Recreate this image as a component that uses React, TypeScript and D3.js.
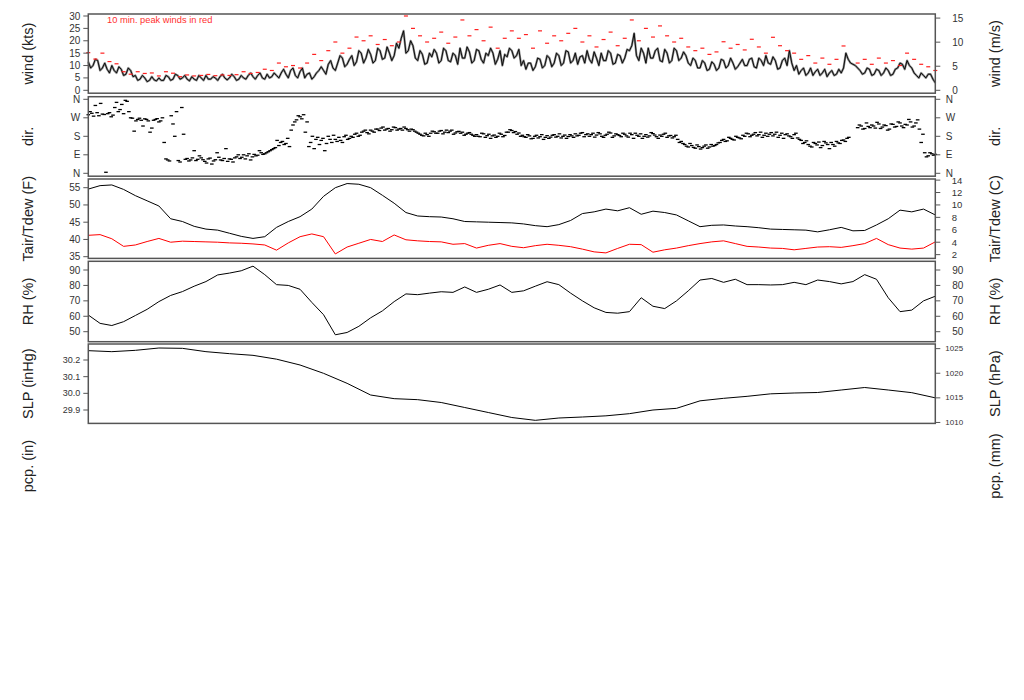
import React from "react";
import * as d3 from "d3";

// ---------- data (time axis in hours from start of period) ----------
const HOURS = 72;

// wind speed (kts), every 0.2 h
const windStep = 0.2;
const windKts = [
  11.5, 9, 10, 12.5, 12, 8, 9, 11, 8.5, 7, 10, 8, 7, 9.5, 8.5, 6, 6.5, 9, 8, 5.5,
  6, 4, 4.5, 6, 5, 3.5, 4, 5.5, 4.2, 3.8, 5, 4, 4, 6, 5.5, 4, 4.5, 6.5, 6, 4.5,
  5, 6, 4.5, 3.8, 5.5, 4.5, 4, 6, 5, 4, 6, 4.5, 4.5, 5.5, 5, 4, 5.5, 6.5, 5, 4.2,
  5, 6.5, 5.5, 4, 4.5, 6, 5, 4.5, 6, 7, 5.5, 4.5, 6, 7, 5, 4.5, 6.5, 5, 5.5, 7,
  6, 5, 7, 8.5, 6.5, 5, 8, 9, 6, 5, 7.5, 9, 5, 6.5, 7, 4.5, 5.5, 7, 8, 9.5,
  8, 6.5, 10.5, 12, 9, 8, 11, 14, 13, 9.5, 10.5, 12.5, 14, 10, 11.5, 16, 15, 11, 13, 16.5,
  14.5, 11, 12, 17, 16, 12.5, 13, 17.5, 15, 12, 14, 19, 17, 21, 24, 15, 16, 20, 18, 13,
  12, 16, 14.5, 10.5, 11, 15, 13.5, 16.5, 15, 11, 12, 17, 16, 12, 11.5, 15, 14, 10.5, 17, 13,
  13, 17.5, 15.5, 11, 12, 16.5, 16, 12.5, 11, 15, 14, 17, 15, 10.5, 12.5, 16, 10, 14.5, 13.5, 17,
  16, 13, 14, 16.5, 10, 12, 8.5, 11, 11, 8, 9.5, 13, 12.5, 9, 10, 14, 13, 9.5, 11, 15,
  14, 10, 11, 16, 15.5, 11, 12, 15, 10.5, 13.5, 14, 11, 16, 12.5, 11, 15.5, 13, 10, 15, 12,
  12, 16, 15, 10.5, 11, 14.5, 14, 11, 13, 16.5, 16, 18, 23, 14, 12, 17, 15, 11, 17, 13,
  13, 16, 17, 12, 11.5, 16.5, 15, 11, 12, 17, 16, 12, 13, 15.5, 14, 11, 10, 13, 12, 9,
  9, 12, 11, 8, 8.5, 11.5, 10.5, 8, 9, 12.5, 12, 9, 10, 13, 11, 8.5, 9.5, 11, 12.5, 10,
  10, 12.5, 13, 9.5, 9, 13, 12, 10, 14, 11, 10.5, 13.5, 12, 8.5, 9, 12, 13, 10, 16, 11,
  8, 10, 6.5, 8, 9, 6, 7, 9, 6, 7.5, 8.5, 6, 7, 8.5, 5.5, 7, 8, 6, 6.5, 8.5,
  7, 9, 15, 12.5, 11, 10.5, 10, 9, 8, 6.5, 7, 9, 8.5, 6, 6.5, 8.5, 8, 6, 7, 9,
  8, 6, 6.5, 8.5, 9, 11, 10.5, 8.5, 12, 10, 9, 7, 6, 5, 7, 6, 5, 6.5, 6.5, 4.5, 3,
];

// 10-min peak wind (kts), every 0.6 h
const peakStep = 0.6;
const peakKts = [
  15.2, 12.6, 15, 11.6, 10.7, 7.5, 6.5, 7.5, 6.8, 7,
  5.8, 7.5, 6.9, 5.5, 6.2, 5.8, 6, 6.4, 5.9, 6.2,
  6, 6.3, 7.5, 6.8, 7.2, 8.5, 8, 11, 9.5, 10,
  9, 11, 14.5, 12, 16, 19.5, 15, 17, 21.5, 20,
  22, 18.5, 20.5, 18, 19.5, 30, 25, 22, 19.5, 21,
  23.5, 19, 21.5, 28.4, 22, 24.5, 20, 25.5, 17, 21,
  24, 21, 22.5, 17, 24, 19, 22, 20, 23, 25,
  19.5, 22, 17.5, 20.5, 23.5, 18, 21, 28.4, 20, 25,
  21.5, 26, 22, 19.5, 21, 17.5, 16, 17, 14.5, 15.5,
  19.6, 17, 18.5, 16.3, 20.6, 17.5, 15, 21.4, 18, 16,
  15, 12.5, 14, 11, 13, 10.5, 12.5, 17.9, NaN, 11,
  12.5, 10.5, 13, 11, 12, 10, 15, 12.5, 10.5, 9.5, 8,
];

// wind direction (deg), every 0.3 h
const dirStep = 0.3;
const dirDeg = [
  285, 292, 330, 280, 288, 5, 295, 283, 345,
  310, 290, 350, 270,
  205, 262, 258, 265, 255, 220, 262, 250, 270,
  70, 60, 240, 300, 55, 190,
  72, 65, 110, 68, 75, 58, 70, 45, 66, 78, 62, 120, 70, 55,
  80, 72, 90, 85, 65, 92, 88, 100, 95,
  105, 115, 125,
  135, 155, 145, 130,
  235, 260, 275, 285,
  250, 150, 120, 175,
  160, 110, 180, 150, 165, 175, 150, 185, 170,
  175, 195, 185, 205, 198, 210, 200,
  215, 220, 210, 218, 212, 222, 215, 210, 218, 205, 212, 200,
  190, 182, 188, 195,
  202, 195, 208, 200, 198, 210, 196, 204, 200, 190, 198, 185,
  188, 178, 192, 183, 170, 186, 180, 190, 184,
  200, 208, 203, 196,
  185, 175, 182, 170, 185, 178, 165, 183, 176, 188, 180, 172, 186, 179, 182,
  192, 185, 198, 188, 180, 195, 186, 192, 175, 190, 196, 182, 188, 178,
  190, 176, 188, 195, 180, 170, 188, 182, 193, 178, 186, 190, 175, 184, 178, 165, 155,
  140, 128, 135, 122, 130, 125, 138, 128, 132, 140,
  150, 165, 158, 170, 162, 175, 168,
  180, 192, 185, 198, 188, 175, 195, 190, 182, 200, 185, 170, 192, 178, 188, 172,
  160, 150, 140, 128, 145, 152, 135, 148, 120, 140, 155, 145, 162, 170,
  NaN, NaN,
  222, 230, 218, 228, 235, 220, 240, 225, 232, 215, 238, 228, 245, 222, 235, 250, 230, 260,
  150, 100, 85, 95, 92,
];
// second set of direction readings, offset by half a step (0.15 h)
const dirOffset = 0.15;
const dirDeg2 = [
  300, 278, 295, 340, 286, 290, 275, 320, 300,
  335, 355, 300, 268,
  255, 268, 230, 262, 200, 258, 266, 255, 150,
  65, 280, 180, 62, 320, 68,
  60, 75, 62, 85, 66, 50, 74, 60, 100, 65, 72, 58, 68, 75,
  90, 78, 70, 95, 80, 85, 110, 92, 100,
  110, 120, 160,
  150, 140, 170, 210,
  250, 280, 265, 200,
  130, 180, 165, 140,
  170, 145, 165, 185, 155, 160, 178, 165, 180,
  190, 180, 200, 210, 192, 205, 215,
  208, 225, 215, 205, 225, 210, 218, 225, 212, 215, 205, 195,
  185, 195, 180, 205,
  195, 205, 192, 210, 205, 190, 202, 195, 185, 195, 190, 180,
  180, 195, 175, 190, 182, 175, 195, 178, 200,
  212, 198, 190, 180,
  178, 188, 168, 180, 172, 188, 175, 170, 185, 176, 192, 180, 170, 188, 175,
  182, 195, 178, 192, 188, 176, 198, 180, 185, 200, 175, 192, 184, 195,
  182, 195, 170, 185, 192, 180, 176, 198, 186, 170, 180, 195, 182, 172, 185, 150, 145,
  132, 145, 126, 138, 118, 132, 122, 140, 135, 148,
  160, 155, 175, 165, 180, 172, 185,
  195, 178, 190, 182, 200, 185, 180, 198, 190, 175, 195, 188, 182, 170, 195, 165,
  145, 158, 132, 150, 138, 125, 155, 140, 150, 132, 148, 160, 155, 175,
  NaN, NaN,
  235, 215, 245, 222, 230, 248, 218, 235, 210, 240, 225, 250, 230, 238, 262, 225, 245, 215,
  190, 80, 100, 88,
];

// hourly air temperature and dew point (F), relative humidity (%)
const hourStep = 1;
const tairF = [
  54.6, 55.6, 55.8, 54.5, 52.7, 51.2, 49.7, 46.0, 45.2, 43.8,
  43.0, 42.7, 41.8, 40.9, 40.3, 40.8, 43.5, 45.2, 46.6, 48.8,
  52.5, 55.0, 56.2, 56.0, 55.0, 52.8, 50.5, 47.8, 46.8, 46.6,
  46.5, 46.0, 45.2, 45.1, 45.0, 44.9, 44.8, 44.5, 44.0, 43.7,
  44.3, 45.5, 47.5, 48.0, 48.8, 48.3, 49.2, 47.3, 48.2, 47.8,
  47.1, 45.4, 43.7, 44.1, 44.2, 43.9, 43.7, 43.4, 43.0, 42.9,
  42.8, 42.7, 42.2, 42.8, 43.5, 42.5, 42.6, 44.2, 46.0, 48.5,
  48.0, 48.8, 47.1,
];
const tdewF = [
  41.2, 41.4, 40.2, 38.0, 38.4, 39.4, 40.3, 39.2, 39.5, 39.4,
  39.3, 39.2, 39.0, 38.9, 38.7, 38.4, 36.9, 39.0, 40.8, 41.6,
  40.8, 35.8, 37.8, 38.9, 40.0, 39.4, 41.3, 39.9, 39.6, 39.4,
  39.3, 38.6, 38.8, 37.5, 38.3, 38.8, 38.0, 37.6, 38.2, 38.6,
  38.3, 37.9, 37.2, 36.4, 36.1, 37.4, 38.6, 38.5, 36.3, 37.0,
  37.5, 38.2, 38.8, 39.3, 39.6, 38.8, 38.0, 37.8, 37.5, 37.4,
  37.0, 37.4, 37.8, 37.9, 37.7, 38.2, 38.8, 40.3, 38.5, 37.5,
  37.2, 37.5, 39.3,
];
const rhPct = [
  60.8, 55.4, 54.0, 56.5, 60.5, 64.5, 69.5, 73.5, 76.0, 79.5,
  82.5, 86.8, 88.0, 89.5, 92.5, 87.0, 80.5, 80.0, 77.5, 69.0,
  61.0, 48.0, 49.5, 53.5, 59.0, 63.5, 69.5, 74.5, 74.0, 75.0,
  75.9, 75.5, 79.0, 75.5, 77.5, 80.3, 75.5, 76.5, 79.5, 82.4,
  80.5, 75.0, 70.0, 65.5, 62.5, 62.0, 63.0, 72.0, 66.5, 65.0,
  70.0, 76.5, 83.5, 84.5, 82.0, 84.0, 80.5, 80.5, 80.3, 80.5,
  82.0, 80.5, 83.5, 82.5, 81.0, 82.5, 87.0, 84.0, 72.0, 63.0,
  64.0, 70.0, 73.0,
];

// sea level pressure (inHg), every 2 h
const slpStep = 2;
const slpInHg = [
  30.256, 30.25, 30.258, 30.272, 30.27, 30.25, 30.238, 30.228, 30.205, 30.17,
  30.12, 30.06, 29.99, 29.968, 29.962, 29.945, 29.915, 29.885, 29.855, 29.838,
  29.852, 29.858, 29.865, 29.878, 29.9, 29.91, 29.955, 29.97, 29.982, 29.997,
  30.002, 30.005, 30.02, 30.035, 30.02, 30.004, 29.973,
];

// tick values / labels
const windTicks = [0, 5, 10, 15, 20, 25, 30];
const msTicks = [0, 5, 10, 15];
const dirTicks = [0, 90, 180, 270, 360];
const dirLabels = ["N", "E", "S", "W", "N"];
const fTicks = [35, 40, 45, 50, 55];
const cTicks = [2, 4, 6, 8, 10, 12, 14];
const rhTicks = [50, 60, 70, 80, 90];
const inTicks = [29.9, 30.0, 30.1, 30.2];
const hpaTicks = [1010, 1015, 1020, 1025];

// ---------- layout ----------
const W = 1024;
const H = 700;
const PL = 88.3;
const PR = 935.3;
const FONT = "'Liberation Sans', Arial, Helvetica, sans-serif";
const FRAME = "#555";
const TICKCOL = "#333";

const panels = {
  wind: { top: 14, bottom: 93.2 },
  dir: { top: 96.7, bottom: 176.2 },
  temp: { top: 179, bottom: 258.4 },
  rh: { top: 261.3, bottom: 341.7 },
  slp: { top: 344, bottom: 423.4 },
};

const xS = d3.scaleLinear().domain([0, HOURS]).range([PL, PR]);
const yWind = d3.scaleLinear().domain([0, 30]).range([90.3, 16]);
const yDir = d3.scaleLinear().domain([0, 360]).range([173.3, 99.3]);
const yF = d3.scaleLinear().domain([35, 55]).range([256.7, 187.7]);
const yRH = d3.scaleLinear().domain([50, 90]).range([331.7, 270]);
const yIn = d3.scaleLinear().domain([29.9, 30.2]).range([410, 360]);

const KTS_PER_MS = 1 / 0.514444;
const yMs = (v: number) => yWind(v * KTS_PER_MS);
const yC = (v: number) => yF(v * 1.8 + 32);
const yHpa = (v: number) => yIn(v / 33.8639);

function pathOf(vals: number[], step: number, y: (v: number) => number) {
  return (
    d3
      .line<number>()
      .defined((d) => !isNaN(d))
      .x((_, i) => xS(i * step))
      .y((d) => y(d))(vals) || ""
  );
}

function LeftAxis({ ticks, y, labels, size, fixed }: { ticks: number[]; y: (v: number) => number; labels?: string[]; size: number; fixed?: number }) {
  return (
    <g>
      {ticks.map((t, i) => (
        <g key={i}>
          <line x1={PL - 5} x2={PL} y1={y(t)} y2={y(t)} stroke={FRAME} strokeWidth={1} />
          <text x={PL - 8} y={y(t)} textAnchor="end" dominantBaseline="central" fontSize={size} fill={TICKCOL} fontFamily={FONT}>
            {labels ? labels[i] : fixed !== undefined ? t.toFixed(fixed) : String(t)}
          </text>
        </g>
      ))}
    </g>
  );
}

function RightAxis({ ticks, y, labels, size, dx }: { ticks: number[]; y: (v: number) => number; labels?: string[]; size: number; dx: number }) {
  return (
    <g>
      {ticks.map((t, i) => (
        <g key={i}>
          <line x1={PR} x2={PR + 5} y1={y(t)} y2={y(t)} stroke={FRAME} strokeWidth={1} />
          <text x={PR + dx} y={y(t)} textAnchor="start" dominantBaseline="central" fontSize={size} fill={TICKCOL} fontFamily={FONT}>
            {labels ? labels[i] : String(t)}
          </text>
        </g>
      ))}
    </g>
  );
}

function Title({ x, y, text }: { x: number; y: number; text: string }) {
  return (
    <text
      x={x}
      y={y}
      transform={`rotate(-90 ${x} ${y})`}
      textAnchor="middle"
      dominantBaseline="central"
      fontSize={14.5}
      fill="#222"
      fontFamily={FONT}
    >
      {text}
    </text>
  );
}

function Frame({ p }: { p: { top: number; bottom: number } }) {
  return <rect x={PL} y={p.top} width={PR - PL} height={p.bottom - p.top} fill="none" stroke={FRAME} strokeWidth={1.5} />;
}

function Dashes({ vals, step, offset, y, color, half, sw }: { vals: number[]; step: number; offset: number; y: (v: number) => number; color: string; half: number; sw: number }) {
  return (
    <g>
      {vals.map((v, i) =>
        isNaN(v) ? null : (
          <line
            key={i}
            x1={xS(offset + i * step) - half}
            x2={xS(offset + i * step) + half}
            y1={y(v)}
            y2={y(v)}
            stroke={color}
            strokeWidth={sw}
          />
        )
      )}
    </g>
  );
}

export default function App() {
  const mid = (p: { top: number; bottom: number }) => (p.top + p.bottom) / 2;
  const LX = 28;
  const RX = 995;
  const windPath = pathOf(windKts, windStep, yWind);
  return (
    <svg width={W} height={H} style={{ position: "absolute", left: 0, top: 0, background: "#fff" }}>
      {/* wind */}
      <path d={windPath} fill="none" stroke="#8a8a8a" strokeWidth={2.2} strokeLinejoin="round" />
      <path d={windPath} fill="none" stroke="#000" strokeWidth={0.9} />
      <Dashes vals={peakKts} step={peakStep} offset={0} y={yWind} color="#ff2020" half={2} sw={1.2} />
      <text x={107} y={20} dominantBaseline="central" fontSize={9.3} fill="#ff3030" fontFamily={FONT}>
        10 min. peak winds in red
      </text>
      <Frame p={panels.wind} />
      <LeftAxis ticks={windTicks} y={yWind} size={10} />
      <RightAxis ticks={msTicks} y={yMs} size={10} dx={17} />
      <Title x={LX} y={mid(panels.wind)} text="wind (kts)" />
      <Title x={RX} y={mid(panels.wind)} text="wind (m/s)" />

      {/* direction */}
      <Dashes vals={dirDeg} step={dirStep} offset={0} y={yDir} color="#000" half={1.8} sw={1.3} />
      <Dashes vals={dirDeg2} step={dirStep} offset={dirOffset} y={yDir} color="#000" half={1.8} sw={1.3} />
      <Frame p={panels.dir} />
      <LeftAxis ticks={dirTicks} y={yDir} labels={dirLabels} size={10} />
      <RightAxis ticks={dirTicks} y={yDir} labels={dirLabels} size={10} dx={10.5} />
      <Title x={LX} y={mid(panels.dir)} text="dir." />
      <Title x={RX} y={mid(panels.dir)} text="dir." />

      {/* temperature */}
      <path d={pathOf(tairF, hourStep, yF)} fill="none" stroke="#000" strokeWidth={1} />
      <path d={pathOf(tdewF, hourStep, yF)} fill="none" stroke="#ff0000" strokeWidth={1} />
      <Frame p={panels.temp} />
      <LeftAxis ticks={fTicks} y={yF} size={10} />
      <RightAxis ticks={cTicks} y={yC} size={9.5} dx={16.5} />
      <Title x={LX} y={mid(panels.temp)} text="Tair/Tdew (F)" />
      <Title x={RX} y={mid(panels.temp)} text="Tair/Tdew (C)" />

      {/* RH */}
      <path d={pathOf(rhPct, hourStep, yRH)} fill="none" stroke="#000" strokeWidth={1} />
      <Frame p={panels.rh} />
      <LeftAxis ticks={rhTicks} y={yRH} size={10} />
      <RightAxis ticks={rhTicks} y={yRH} size={10} dx={17} />
      <Title x={LX} y={mid(panels.rh)} text="RH (%)" />
      <Title x={RX} y={mid(panels.rh)} text="RH (%)" />

      {/* SLP */}
      <path d={pathOf(slpInHg, slpStep, yIn)} fill="none" stroke="#000" strokeWidth={1} />
      <Frame p={panels.slp} />
      <LeftAxis ticks={inTicks} y={yIn} size={9} fixed={1} />
      <RightAxis ticks={hpaTicks} y={yHpa} size={8} dx={10} />
      <Title x={LX} y={mid(panels.slp)} text="SLP (inHg)" />
      <Title x={RX} y={mid(panels.slp)} text="SLP (hPa)" />

      {/* precipitation (labels only) */}
      <Title x={LX} y={466} text="pcp. (in)" />
      <Title x={RX} y={466} text="pcp. (mm)" />
    </svg>
  );
}
